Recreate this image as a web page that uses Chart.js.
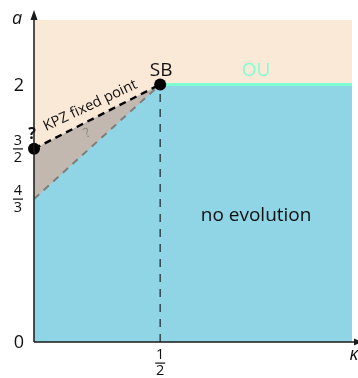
<!DOCTYPE html>
<html>
<head>
<meta charset="utf-8">
<script src="https://cdn.jsdelivr.net/npm/chart.js@4"></script>
<style>
  body { margin: 0; background: #fff; }
  #wrap { width: 358px; height: 378px; }
</style>
</head>
<body>
<div id="wrap"><canvas id="phase"></canvas></div>
<script>
// axis ranges (kappa horizontal, a vertical)
const kappaMax = 1.26;
const aMax = 2.5;

// tick positions and labels (fractions written as [num, den])
const kappaTicks = [0.5];
const kappaTickLabels = [['1', '2']];
const aTicks = [0, 1.11, 1.5, 2];
const aTickLabels = ['0', ['4', '3'], ['3', '2'], '2'];

// boundaries of the regions
const kpzKappa = [0, 0.5];
const kpzA = [1.5, 2];
const lowerKappa = [0, 0.5];
const lowerA = [1.11, 2];
const ouKappa = [0.5, kappaMax];
const ouA = [2, 2];
const sbKappa = [0.5, 0.5];
const sbA = [0, 2];
const blueKappa = [0, 0.5, kappaMax];
const blueA = [1.11, 2, 2];
const dotKappa = [0, 0.5];
const dotA = [1.5, 2];

const pts = (xs, ys) => xs.map((x, i) => ({ x: x, y: ys[i] }));

const FONT = '"Open Sans", "Noto Sans", sans-serif';

const decor = {
    id: 'decor',
    beforeDraw(chart) {
        const { ctx, chartArea: c } = chart;
        ctx.save();
        ctx.fillStyle = '#fae9d6';
        ctx.fillRect(c.left, c.top, c.right - c.left, c.bottom - c.top);
        ctx.restore();
    },
    afterDraw(chart) {
        const { ctx, chartArea: c, scales } = chart;
        const xs = scales.x, ys = scales.y;
        ctx.save();

        // axes with arrows
        ctx.strokeStyle = '#1a1a1a';
        ctx.fillStyle = '#1a1a1a';
        ctx.lineWidth = 1.5;
        ctx.beginPath();
        ctx.moveTo(c.left, c.bottom);
        ctx.lineTo(c.left, 14);
        ctx.moveTo(c.left, c.bottom);
        ctx.lineTo(358, c.bottom);
        ctx.stroke();
        ctx.beginPath();
        ctx.moveTo(c.left, 10);
        ctx.lineTo(c.left - 3.5, 20);
        ctx.lineTo(c.left + 3.5, 20);
        ctx.closePath();
        ctx.fill();
        ctx.beginPath();
        ctx.moveTo(362, c.bottom);
        ctx.lineTo(354, c.bottom - 3.5);
        ctx.lineTo(354, c.bottom + 3.5);
        ctx.closePath();
        ctx.fill();

        ctx.textAlign = 'center';
        ctx.textBaseline = 'middle';

        // y tick labels
        aTicks.forEach((v, i) => {
            const y = ys.getPixelForValue(v);
            const lab = aTickLabels[i];
            ctx.fillStyle = '#111';
            if (Array.isArray(lab)) {
                ctx.font = '14.5px ' + FONT;
                ctx.fillText(lab[0], 18, y - 8);
                ctx.fillText(lab[1], 18, y + 9);
                ctx.fillRect(13, y - 0.5, 10, 1.2);
            } else {
                ctx.font = '18px ' + FONT;
                ctx.fillText(lab, 19, y + 1);
            }
        });

        // x tick labels
        kappaTicks.forEach((v, i) => {
            const x = xs.getPixelForValue(v);
            const lab = kappaTickLabels[i];
            ctx.font = '14.5px ' + FONT;
            ctx.fillStyle = '#111';
            ctx.fillText(lab[0], x, 355);
            ctx.fillText(lab[1], x, 371);
            ctx.fillRect(x - 5, 362.5, 10, 1.2);
        });

        // axis titles
        ctx.font = 'italic 18px ' + FONT;
        ctx.fillText('a', 17, 19);
        ctx.fillText('\u03ba', 354, 355);

        // annotations
        const sbx = xs.getPixelForValue(0.5), sby = ys.getPixelForValue(2);
        ctx.font = '19px ' + FONT;
        ctx.fillStyle = '#111';
        ctx.fillText('SB', sbx + 1, sby - 14);

        ctx.fillStyle = '#7fffd4';
        ctx.fillText('OU', xs.getPixelForValue(0.88), sby - 14);

        ctx.fillStyle = '#111';
        ctx.fillText('no evolution', xs.getPixelForValue(0.88), ys.getPixelForValue(0.985));

        ctx.font = 'bold 16px ' + FONT;
        ctx.fillText('?', 32, ys.getPixelForValue(1.5) - 14);

        // label along the KPZ line
        const x0 = xs.getPixelForValue(kpzKappa[0]), y0 = ys.getPixelForValue(kpzA[0]);
        const x1 = xs.getPixelForValue(kpzKappa[1]), y1 = ys.getPixelForValue(kpzA[1]);
        const ang = Math.atan2(y1 - y0, x1 - x0);
        ctx.save();
        ctx.translate(x0 + (x1 - x0) * 0.49, y0 + (y1 - y0) * 0.49);
        ctx.rotate(ang + 0.03);
        ctx.font = '14.5px ' + FONT;
        ctx.fillStyle = '#111';
        ctx.fillText('KPZ fixed point', 0, -13);
        ctx.restore();

        // small question mark in the grey wedge
        const lx = xs.getPixelForValue(0.21), ly = ys.getPixelForValue(1.62);
        ctx.save();
        ctx.translate(lx, ly);
        ctx.rotate(ang);
        ctx.font = '13.5px ' + FONT;
        ctx.fillStyle = '#8a8a8a';
        ctx.fillText('?', 0, 0);
        ctx.restore();

        ctx.restore();
    }
};

new Chart(document.getElementById('phase'), {
    type: 'scatter',
    data: {
        datasets: [
            {
                data: pts(dotKappa, dotA),
                showLine: false,
                pointRadius: 6,
                pointBackgroundColor: '#000',
                pointBorderWidth: 0,
                clip: false
            },
            {
                data: pts(ouKappa, ouA),
                showLine: true,
                borderColor: '#7fffd4',
                borderWidth: 3,
                pointRadius: 0
            },
            {
                data: pts(kpzKappa, kpzA),
                showLine: true,
                borderColor: '#000',
                borderWidth: 2.4,
                borderDash: [7, 5],
                pointRadius: 0
            },
            {
                data: pts(lowerKappa, lowerA),
                showLine: true,
                borderColor: '#7d7d7d',
                borderWidth: 2,
                borderDash: [7, 6],
                pointRadius: 0
            },
            {
                data: pts(sbKappa, sbA),
                showLine: true,
                borderColor: '#34444c',
                borderWidth: 1.5,
                borderDash: [8, 7],
                pointRadius: 0
            },
            {
                data: pts(blueKappa, blueA),
                showLine: true,
                borderWidth: 0,
                borderColor: 'rgba(0,0,0,0)',
                backgroundColor: '#8fd5e5',
                fill: 'origin',
                pointRadius: 0
            },
            {
                data: pts(kpzKappa, kpzA),
                showLine: true,
                borderWidth: 0,
                borderColor: 'rgba(0,0,0,0)',
                backgroundColor: '#c2b8af',
                fill: 'origin',
                pointRadius: 0
            }
        ]
    },
    options: {
        responsive: true,
        maintainAspectRatio: false,
        animation: false,
        layout: { padding: { left: 34, top: 20, right: 3, bottom: 36 } },
        plugins: {
            legend: { display: false },
            tooltip: { enabled: false }
        },
        scales: {
            x: { type: 'linear', min: 0, max: kappaMax, display: false },
            y: { type: 'linear', min: 0, max: aMax, display: false }
        }
    },
    plugins: [decor]
});
</script>
</body>
</html>
